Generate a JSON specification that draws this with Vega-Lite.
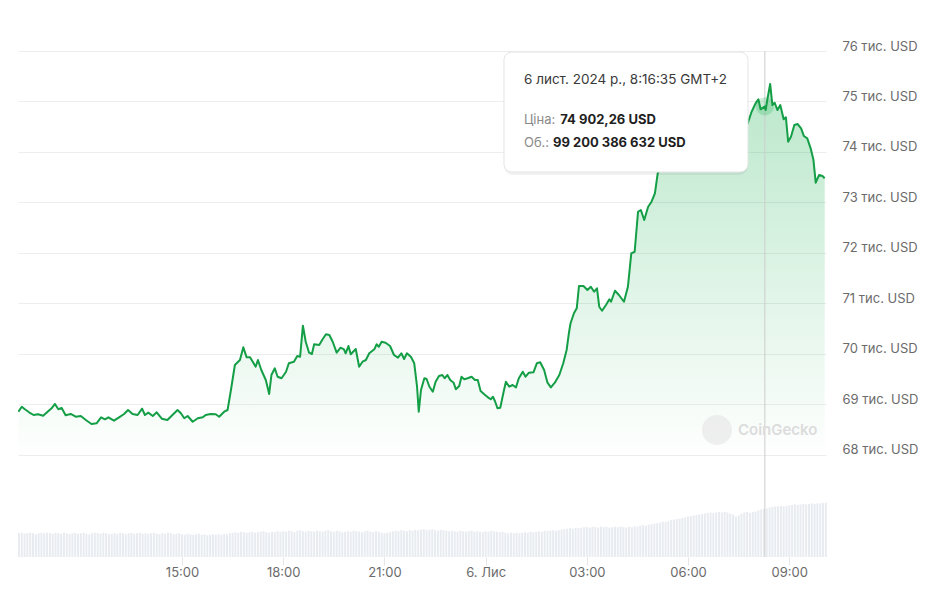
{
  "$schema": "https://vega.github.io/schema/vega-lite/v6.json",
  "width": 808,
  "height": 506,
  "padding": {"left": 17, "top": 40, "right": 0, "bottom": 0},
  "background": "white",
  "config": {"view": {"stroke": null}, "font": "Inter"},
  "datasets": {
    "price": [
      {"t":"2024-11-05T10:09Z","p":68857},{"t":"2024-11-05T10:15Z","p":68956},{"t":"2024-11-05T10:20Z","p":68911},{"t":"2024-11-05T10:28Z","p":68845},{"t":"2024-11-05T10:36Z","p":68792},{"t":"2024-11-05T10:44Z","p":68806},{"t":"2024-11-05T10:53Z","p":68778},{"t":"2024-11-05T11:01Z","p":68857},{"t":"2024-11-05T11:08Z","p":68925},{"t":"2024-11-05T11:14Z","p":69010},{"t":"2024-11-05T11:20Z","p":68905},{"t":"2024-11-05T11:26Z","p":68931},{"t":"2024-11-05T11:33Z","p":68786},{"t":"2024-11-05T11:42Z","p":68812},{"t":"2024-11-05T11:51Z","p":68758},{"t":"2024-11-05T12:00Z","p":68772},{"t":"2024-11-05T12:09Z","p":68693},{"t":"2024-11-05T12:19Z","p":68614},{"t":"2024-11-05T12:28Z","p":68628},{"t":"2024-11-05T12:36Z","p":68746},{"t":"2024-11-05T12:43Z","p":68707},{"t":"2024-11-05T12:49Z","p":68746},{"t":"2024-11-05T12:59Z","p":68679},{"t":"2024-11-05T13:08Z","p":68746},{"t":"2024-11-05T13:17Z","p":68812},{"t":"2024-11-05T13:24Z","p":68891},{"t":"2024-11-05T13:32Z","p":68812},{"t":"2024-11-05T13:41Z","p":68792},{"t":"2024-11-05T13:49Z","p":68917},{"t":"2024-11-05T13:54Z","p":68792},{"t":"2024-11-05T14:00Z","p":68838},{"t":"2024-11-05T14:08Z","p":68772},{"t":"2024-11-05T14:15Z","p":68845},{"t":"2024-11-05T14:24Z","p":68719},{"t":"2024-11-05T14:34Z","p":68693},{"t":"2024-11-05T14:43Z","p":68792},{"t":"2024-11-05T14:52Z","p":68891},{"t":"2024-11-05T14:58Z","p":68826},{"t":"2024-11-05T15:04Z","p":68727},{"t":"2024-11-05T15:10Z","p":68772},{"t":"2024-11-05T15:19Z","p":68659},{"t":"2024-11-05T15:28Z","p":68727},{"t":"2024-11-05T15:37Z","p":68746},{"t":"2024-11-05T15:42Z","p":68792},{"t":"2024-11-05T15:51Z","p":68812},{"t":"2024-11-05T16:00Z","p":68806},{"t":"2024-11-05T16:06Z","p":68758},{"t":"2024-11-05T16:15Z","p":68857},{"t":"2024-11-05T16:21Z","p":68891},{"t":"2024-11-05T16:27Z","p":69287},{"t":"2024-11-05T16:34Z","p":69782},{"t":"2024-11-05T16:43Z","p":69881},{"t":"2024-11-05T16:49Z","p":70132},{"t":"2024-11-05T16:55Z","p":69934},{"t":"2024-11-05T17:01Z","p":69934},{"t":"2024-11-05T17:11Z","p":69748},{"t":"2024-11-05T17:15Z","p":69881},{"t":"2024-11-05T17:21Z","p":69683},{"t":"2024-11-05T17:29Z","p":69485},{"t":"2024-11-05T17:35Z","p":69208},{"t":"2024-11-05T17:39Z","p":69584},{"t":"2024-11-05T17:45Z","p":69717},{"t":"2024-11-05T17:50Z","p":69550},{"t":"2024-11-05T17:57Z","p":69519},{"t":"2024-11-05T18:05Z","p":69649},{"t":"2024-11-05T18:10Z","p":69816},{"t":"2024-11-05T18:19Z","p":69847},{"t":"2024-11-05T18:25Z","p":69960},{"t":"2024-11-05T18:30Z","p":69946},{"t":"2024-11-05T18:35Z","p":70560},{"t":"2024-11-05T18:40Z","p":70243},{"t":"2024-11-05T18:46Z","p":70026},{"t":"2024-11-05T18:51Z","p":70000},{"t":"2024-11-05T18:55Z","p":70192},{"t":"2024-11-05T19:04Z","p":70178},{"t":"2024-11-05T19:10Z","p":70291},{"t":"2024-11-05T19:16Z","p":70390},{"t":"2024-11-05T19:22Z","p":70376},{"t":"2024-11-05T19:28Z","p":70243},{"t":"2024-11-05T19:35Z","p":70026},{"t":"2024-11-05T19:42Z","p":70125},{"t":"2024-11-05T19:48Z","p":70093},{"t":"2024-11-05T19:51Z","p":70014},{"t":"2024-11-05T19:56Z","p":70158},{"t":"2024-11-05T20:00Z","p":69994},{"t":"2024-11-05T20:09Z","p":70099},{"t":"2024-11-05T20:15Z","p":69748},{"t":"2024-11-05T20:21Z","p":69847},{"t":"2024-11-05T20:27Z","p":69881},{"t":"2024-11-05T20:33Z","p":70014},{"t":"2024-11-05T20:42Z","p":70093},{"t":"2024-11-05T20:46Z","p":70192},{"t":"2024-11-05T20:50Z","p":70144},{"t":"2024-11-05T20:55Z","p":70243},{"t":"2024-11-05T21:02Z","p":70224},{"t":"2024-11-05T21:10Z","p":70158},{"t":"2024-11-05T21:17Z","p":69980},{"t":"2024-11-05T21:24Z","p":69927},{"t":"2024-11-05T21:30Z","p":70014},{"t":"2024-11-05T21:35Z","p":69901},{"t":"2024-11-05T21:40Z","p":70014},{"t":"2024-11-05T21:47Z","p":69946},{"t":"2024-11-05T21:53Z","p":69816},{"t":"2024-11-05T21:58Z","p":69352},{"t":"2024-11-05T22:01Z","p":68857},{"t":"2024-11-05T22:05Z","p":69287},{"t":"2024-11-05T22:11Z","p":69519},{"t":"2024-11-05T22:15Z","p":69505},{"t":"2024-11-05T22:20Z","p":69352},{"t":"2024-11-05T22:26Z","p":69253},{"t":"2024-11-05T22:31Z","p":69451},{"t":"2024-11-05T22:37Z","p":69564},{"t":"2024-11-05T22:43Z","p":69584},{"t":"2024-11-05T22:47Z","p":69519},{"t":"2024-11-05T22:52Z","p":69584},{"t":"2024-11-05T22:57Z","p":69485},{"t":"2024-11-05T23:03Z","p":69432},{"t":"2024-11-05T23:07Z","p":69301},{"t":"2024-11-05T23:13Z","p":69366},{"t":"2024-11-05T23:17Z","p":69550},{"t":"2024-11-05T23:22Z","p":69499},{"t":"2024-11-05T23:28Z","p":69519},{"t":"2024-11-05T23:35Z","p":69550},{"t":"2024-11-05T23:41Z","p":69485},{"t":"2024-11-05T23:46Z","p":69485},{"t":"2024-11-05T23:51Z","p":69267},{"t":"2024-11-05T23:59Z","p":69188},
      {"t":"2024-11-06T00:04Z","p":69142},{"t":"2024-11-06T00:09Z","p":69103},{"t":"2024-11-06T00:13Z","p":69154},{"t":"2024-11-06T00:17Z","p":69055},{"t":"2024-11-06T00:21Z","p":68925},{"t":"2024-11-06T00:26Z","p":68937},{"t":"2024-11-06T00:32Z","p":69253},{"t":"2024-11-06T00:36Z","p":69451},{"t":"2024-11-06T00:42Z","p":69352},{"t":"2024-11-06T00:48Z","p":69386},{"t":"2024-11-06T00:54Z","p":69340},{"t":"2024-11-06T00:59Z","p":69519},{"t":"2024-11-06T01:06Z","p":69649},{"t":"2024-11-06T01:11Z","p":69550},{"t":"2024-11-06T01:17Z","p":69630},{"t":"2024-11-06T01:25Z","p":69637},{"t":"2024-11-06T01:31Z","p":69816},{"t":"2024-11-06T01:37Z","p":69835},{"t":"2024-11-06T01:44Z","p":69683},{"t":"2024-11-06T01:50Z","p":69432},{"t":"2024-11-06T01:56Z","p":69340},{"t":"2024-11-06T02:03Z","p":69432},{"t":"2024-11-06T02:11Z","p":69584},{"t":"2024-11-06T02:18Z","p":69816},{"t":"2024-11-06T02:24Z","p":70079},{"t":"2024-11-06T02:28Z","p":70410},{"t":"2024-11-06T02:31Z","p":70608},{"t":"2024-11-06T02:37Z","p":70806},{"t":"2024-11-06T02:42Z","p":70905},{"t":"2024-11-06T02:46Z","p":71346},{"t":"2024-11-06T02:54Z","p":71346},{"t":"2024-11-06T03:01Z","p":71267},{"t":"2024-11-06T03:07Z","p":71332},{"t":"2024-11-06T03:13Z","p":71233},{"t":"2024-11-06T03:18Z","p":71301},{"t":"2024-11-06T03:22Z","p":70936},{"t":"2024-11-06T03:27Z","p":70857},{"t":"2024-11-06T03:34Z","p":70970},{"t":"2024-11-06T03:40Z","p":71083},{"t":"2024-11-06T03:43Z","p":71035},{"t":"2024-11-06T03:50Z","p":71253},{"t":"2024-11-06T03:57Z","p":71168},{"t":"2024-11-06T04:06Z","p":71035},{"t":"2024-11-06T04:13Z","p":71332},{"t":"2024-11-06T04:19Z","p":71994},{"t":"2024-11-06T04:25Z","p":72025},{"t":"2024-11-06T04:31Z","p":72817},{"t":"2024-11-06T04:36Z","p":72851},{"t":"2024-11-06T04:42Z","p":72653},{"t":"2024-11-06T04:49Z","p":72916},{"t":"2024-11-06T04:55Z","p":73015},{"t":"2024-11-06T05:01Z","p":73182},{"t":"2024-11-06T05:06Z","p":73578},{"t":"2024-11-06T05:20Z","p":73842},{"t":"2024-11-06T05:47Z","p":74039},{"t":"2024-11-06T06:14Z","p":74237},{"t":"2024-11-06T06:40Z","p":74277},{"t":"2024-11-06T07:07Z","p":74435},{"t":"2024-11-06T07:34Z","p":74475},{"t":"2024-11-06T07:46Z","p":74568},{"t":"2024-11-06T07:53Z","p":74797},{"t":"2024-11-06T08:00Z","p":74964},{"t":"2024-11-06T08:05Z","p":75043},{"t":"2024-11-06T08:09Z","p":74845},{"t":"2024-11-06T08:16:35Z","p":74902.26},{"t":"2024-11-06T08:18Z","p":74831},{"t":"2024-11-06T08:21Z","p":75043},{"t":"2024-11-06T08:26Z","p":75346},{"t":"2024-11-06T08:30Z","p":74930},{"t":"2024-11-06T08:34Z","p":74975},{"t":"2024-11-06T08:39Z","p":74831},{"t":"2024-11-06T08:44Z","p":74930},{"t":"2024-11-06T08:50Z","p":74647},{"t":"2024-11-06T08:54Z","p":74686},{"t":"2024-11-06T08:58Z","p":74203},{"t":"2024-11-06T09:03Z","p":74302},{"t":"2024-11-06T09:09Z","p":74534},{"t":"2024-11-06T09:15Z","p":74554},{"t":"2024-11-06T09:21Z","p":74469},{"t":"2024-11-06T09:26Z","p":74316},{"t":"2024-11-06T09:32Z","p":74271},{"t":"2024-11-06T09:38Z","p":74073},{"t":"2024-11-06T09:43Z","p":73841},{"t":"2024-11-06T09:47Z","p":73392},{"t":"2024-11-06T09:53Z","p":73544},{"t":"2024-11-06T09:59Z","p":73524},{"t":"2024-11-06T10:03Z","p":73479}
    ],
    "vol": [
      {"t":"2024-11-05T10:10Z","v":47},{"t":"2024-11-05T10:15Z","v":48},{"t":"2024-11-05T10:20Z","v":46},{"t":"2024-11-05T10:25Z","v":47},{"t":"2024-11-05T10:30Z","v":48},{"t":"2024-11-05T10:35Z","v":47},{"t":"2024-11-05T10:40Z","v":45},{"t":"2024-11-05T10:45Z","v":47},{"t":"2024-11-05T10:50Z","v":48},{"t":"2024-11-05T10:55Z","v":47},
      {"t":"2024-11-05T11:00Z","v":48},{"t":"2024-11-05T11:05Z","v":47},{"t":"2024-11-05T11:10Z","v":46},{"t":"2024-11-05T11:15Z","v":48},{"t":"2024-11-05T11:20Z","v":47},{"t":"2024-11-05T11:25Z","v":46},{"t":"2024-11-05T11:30Z","v":48},{"t":"2024-11-05T11:35Z","v":47},{"t":"2024-11-05T11:40Z","v":45},{"t":"2024-11-05T11:45Z","v":47},{"t":"2024-11-05T11:50Z","v":48},{"t":"2024-11-05T11:55Z","v":46},
      {"t":"2024-11-05T12:00Z","v":47},{"t":"2024-11-05T12:05Z","v":48},{"t":"2024-11-05T12:10Z","v":46},{"t":"2024-11-05T12:15Z","v":45},{"t":"2024-11-05T12:20Z","v":47},{"t":"2024-11-05T12:25Z","v":48},{"t":"2024-11-05T12:30Z","v":47},{"t":"2024-11-05T12:35Z","v":46},{"t":"2024-11-05T12:40Z","v":48},{"t":"2024-11-05T12:45Z","v":47},{"t":"2024-11-05T12:50Z","v":45},{"t":"2024-11-05T12:55Z","v":46},
      {"t":"2024-11-05T13:00Z","v":47},{"t":"2024-11-05T13:05Z","v":46},{"t":"2024-11-05T13:10Z","v":48},{"t":"2024-11-05T13:15Z","v":47},{"t":"2024-11-05T13:20Z","v":45},{"t":"2024-11-05T13:25Z","v":47},{"t":"2024-11-05T13:30Z","v":48},{"t":"2024-11-05T13:35Z","v":46},{"t":"2024-11-05T13:40Z","v":47},{"t":"2024-11-05T13:45Z","v":48},{"t":"2024-11-05T13:50Z","v":46},{"t":"2024-11-05T13:55Z","v":47},
      {"t":"2024-11-05T14:00Z","v":46},{"t":"2024-11-05T14:05Z","v":47},{"t":"2024-11-05T14:10Z","v":48},{"t":"2024-11-05T14:15Z","v":46},{"t":"2024-11-05T14:20Z","v":45},{"t":"2024-11-05T14:25Z","v":47},{"t":"2024-11-05T14:30Z","v":46},{"t":"2024-11-05T14:35Z","v":48},{"t":"2024-11-05T14:40Z","v":47},{"t":"2024-11-05T14:45Z","v":45},{"t":"2024-11-05T14:50Z","v":46},{"t":"2024-11-05T14:55Z","v":47},
      {"t":"2024-11-05T15:00Z","v":45},{"t":"2024-11-05T15:05Z","v":44},{"t":"2024-11-05T15:10Z","v":46},{"t":"2024-11-05T15:15Z","v":45},{"t":"2024-11-05T15:20Z","v":44},{"t":"2024-11-05T15:25Z","v":45},{"t":"2024-11-05T15:30Z","v":46},{"t":"2024-11-05T15:35Z","v":44},{"t":"2024-11-05T15:40Z","v":45},{"t":"2024-11-05T15:45Z","v":43},{"t":"2024-11-05T15:50Z","v":44},{"t":"2024-11-05T15:55Z","v":45},
      {"t":"2024-11-05T16:00Z","v":44},{"t":"2024-11-05T16:05Z","v":45},{"t":"2024-11-05T16:10Z","v":44},{"t":"2024-11-05T16:15Z","v":46},{"t":"2024-11-05T16:20Z","v":45},{"t":"2024-11-05T16:25Z","v":47},{"t":"2024-11-05T16:30Z","v":48},{"t":"2024-11-05T16:35Z","v":49},{"t":"2024-11-05T16:40Z","v":48},{"t":"2024-11-05T16:45Z","v":50},{"t":"2024-11-05T16:50Z","v":49},{"t":"2024-11-05T16:55Z","v":48},
      {"t":"2024-11-05T17:00Z","v":49},{"t":"2024-11-05T17:05Z","v":50},{"t":"2024-11-05T17:10Z","v":48},{"t":"2024-11-05T17:15Z","v":49},{"t":"2024-11-05T17:20Z","v":50},{"t":"2024-11-05T17:25Z","v":51},{"t":"2024-11-05T17:30Z","v":49},{"t":"2024-11-05T17:35Z","v":48},{"t":"2024-11-05T17:40Z","v":50},{"t":"2024-11-05T17:45Z","v":49},{"t":"2024-11-05T17:50Z","v":51},{"t":"2024-11-05T17:55Z","v":50},
      {"t":"2024-11-05T18:00Z","v":51},{"t":"2024-11-05T18:05Z","v":50},{"t":"2024-11-05T18:10Z","v":52},{"t":"2024-11-05T18:15Z","v":51},{"t":"2024-11-05T18:20Z","v":49},{"t":"2024-11-05T18:25Z","v":52},{"t":"2024-11-05T18:30Z","v":53},{"t":"2024-11-05T18:35Z","v":51},{"t":"2024-11-05T18:40Z","v":50},{"t":"2024-11-05T18:45Z","v":52},{"t":"2024-11-05T18:50Z","v":51},{"t":"2024-11-05T18:55Z","v":50},
      {"t":"2024-11-05T19:00Z","v":52},{"t":"2024-11-05T19:05Z","v":51},{"t":"2024-11-05T19:10Z","v":50},{"t":"2024-11-05T19:15Z","v":52},{"t":"2024-11-05T19:20Z","v":53},{"t":"2024-11-05T19:25Z","v":51},{"t":"2024-11-05T19:30Z","v":50},{"t":"2024-11-05T19:35Z","v":52},{"t":"2024-11-05T19:40Z","v":51},{"t":"2024-11-05T19:45Z","v":49},{"t":"2024-11-05T19:50Z","v":50},{"t":"2024-11-05T19:55Z","v":51},
      {"t":"2024-11-05T20:00Z","v":50},{"t":"2024-11-05T20:05Z","v":52},{"t":"2024-11-05T20:10Z","v":51},{"t":"2024-11-05T20:15Z","v":50},{"t":"2024-11-05T20:20Z","v":49},{"t":"2024-11-05T20:25Z","v":51},{"t":"2024-11-05T20:30Z","v":52},{"t":"2024-11-05T20:35Z","v":50},{"t":"2024-11-05T20:40Z","v":49},{"t":"2024-11-05T20:45Z","v":51},{"t":"2024-11-05T20:50Z","v":50},{"t":"2024-11-05T20:55Z","v":48},
      {"t":"2024-11-05T21:00Z","v":47},{"t":"2024-11-05T21:05Z","v":48},{"t":"2024-11-05T21:10Z","v":49},{"t":"2024-11-05T21:15Z","v":51},{"t":"2024-11-05T21:20Z","v":52},{"t":"2024-11-05T21:25Z","v":51},{"t":"2024-11-05T21:30Z","v":53},{"t":"2024-11-05T21:35Z","v":52},{"t":"2024-11-05T21:40Z","v":51},{"t":"2024-11-05T21:45Z","v":53},{"t":"2024-11-05T21:50Z","v":52},{"t":"2024-11-05T21:55Z","v":54},
      {"t":"2024-11-05T22:00Z","v":53},{"t":"2024-11-05T22:05Z","v":54},{"t":"2024-11-05T22:10Z","v":55},{"t":"2024-11-05T22:15Z","v":53},{"t":"2024-11-05T22:20Z","v":54},{"t":"2024-11-05T22:25Z","v":55},{"t":"2024-11-05T22:30Z","v":53},{"t":"2024-11-05T22:35Z","v":52},{"t":"2024-11-05T22:40Z","v":54},{"t":"2024-11-05T22:45Z","v":53},{"t":"2024-11-05T22:50Z","v":52},{"t":"2024-11-05T22:55Z","v":51},
      {"t":"2024-11-05T23:00Z","v":52},{"t":"2024-11-05T23:05Z","v":51},{"t":"2024-11-05T23:10Z","v":50},{"t":"2024-11-05T23:15Z","v":52},{"t":"2024-11-05T23:20Z","v":51},{"t":"2024-11-05T23:25Z","v":50},{"t":"2024-11-05T23:30Z","v":51},{"t":"2024-11-05T23:35Z","v":52},{"t":"2024-11-05T23:40Z","v":50},{"t":"2024-11-05T23:45Z","v":51},{"t":"2024-11-05T23:50Z","v":50},{"t":"2024-11-05T23:55Z","v":49},
      {"t":"2024-11-06T00:00Z","v":51},{"t":"2024-11-06T00:05Z","v":50},{"t":"2024-11-06T00:10Z","v":52},{"t":"2024-11-06T00:15Z","v":51},{"t":"2024-11-06T00:20Z","v":50},{"t":"2024-11-06T00:25Z","v":49},{"t":"2024-11-06T00:30Z","v":50},{"t":"2024-11-06T00:35Z","v":48},{"t":"2024-11-06T00:40Z","v":47},{"t":"2024-11-06T00:45Z","v":48},{"t":"2024-11-06T00:50Z","v":47},{"t":"2024-11-06T00:55Z","v":48},
      {"t":"2024-11-06T01:00Z","v":47},{"t":"2024-11-06T01:05Z","v":48},{"t":"2024-11-06T01:10Z","v":49},{"t":"2024-11-06T01:15Z","v":48},{"t":"2024-11-06T01:20Z","v":50},{"t":"2024-11-06T01:25Z","v":49},{"t":"2024-11-06T01:30Z","v":50},{"t":"2024-11-06T01:35Z","v":51},{"t":"2024-11-06T01:40Z","v":50},{"t":"2024-11-06T01:45Z","v":52},{"t":"2024-11-06T01:50Z","v":51},{"t":"2024-11-06T01:55Z","v":52},
      {"t":"2024-11-06T02:00Z","v":53},{"t":"2024-11-06T02:05Z","v":52},{"t":"2024-11-06T02:10Z","v":53},{"t":"2024-11-06T02:15Z","v":54},{"t":"2024-11-06T02:20Z","v":55},{"t":"2024-11-06T02:25Z","v":56},{"t":"2024-11-06T02:30Z","v":57},{"t":"2024-11-06T02:35Z","v":56},{"t":"2024-11-06T02:40Z","v":58},{"t":"2024-11-06T02:45Z","v":57},{"t":"2024-11-06T02:50Z","v":58},{"t":"2024-11-06T02:55Z","v":59},
      {"t":"2024-11-06T03:00Z","v":59},{"t":"2024-11-06T03:05Z","v":58},{"t":"2024-11-06T03:10Z","v":60},{"t":"2024-11-06T03:15Z","v":59},{"t":"2024-11-06T03:20Z","v":58},{"t":"2024-11-06T03:25Z","v":60},{"t":"2024-11-06T03:30Z","v":59},{"t":"2024-11-06T03:35Z","v":60},{"t":"2024-11-06T03:40Z","v":58},{"t":"2024-11-06T03:45Z","v":59},{"t":"2024-11-06T03:50Z","v":60},{"t":"2024-11-06T03:55Z","v":59},
      {"t":"2024-11-06T04:00Z","v":60},{"t":"2024-11-06T04:05Z","v":59},{"t":"2024-11-06T04:10Z","v":58},{"t":"2024-11-06T04:15Z","v":60},{"t":"2024-11-06T04:20Z","v":59},{"t":"2024-11-06T04:25Z","v":61},{"t":"2024-11-06T04:30Z","v":60},{"t":"2024-11-06T04:35Z","v":62},{"t":"2024-11-06T04:40Z","v":63},{"t":"2024-11-06T04:45Z","v":62},{"t":"2024-11-06T04:50Z","v":64},{"t":"2024-11-06T04:55Z","v":65},
      {"t":"2024-11-06T05:00Z","v":66},{"t":"2024-11-06T05:05Z","v":67},{"t":"2024-11-06T05:10Z","v":68},{"t":"2024-11-06T05:15Z","v":70},{"t":"2024-11-06T05:20Z","v":69},{"t":"2024-11-06T05:25Z","v":71},{"t":"2024-11-06T05:30Z","v":73},{"t":"2024-11-06T05:35Z","v":74},{"t":"2024-11-06T05:40Z","v":75},{"t":"2024-11-06T05:45Z","v":76},{"t":"2024-11-06T05:50Z","v":77},{"t":"2024-11-06T05:55Z","v":78},
      {"t":"2024-11-06T06:00Z","v":80},{"t":"2024-11-06T06:05Z","v":81},{"t":"2024-11-06T06:10Z","v":82},{"t":"2024-11-06T06:15Z","v":83},{"t":"2024-11-06T06:20Z","v":84},{"t":"2024-11-06T06:25Z","v":85},{"t":"2024-11-06T06:30Z","v":86},{"t":"2024-11-06T06:35Z","v":87},{"t":"2024-11-06T06:40Z","v":88},{"t":"2024-11-06T06:45Z","v":87},{"t":"2024-11-06T06:50Z","v":88},{"t":"2024-11-06T06:55Z","v":89},
      {"t":"2024-11-06T07:00Z","v":88},{"t":"2024-11-06T07:05Z","v":89},{"t":"2024-11-06T07:10Z","v":88},{"t":"2024-11-06T07:15Z","v":86},{"t":"2024-11-06T07:20Z","v":84},{"t":"2024-11-06T07:25Z","v":80},{"t":"2024-11-06T07:30Z","v":82},{"t":"2024-11-06T07:35Z","v":86},{"t":"2024-11-06T07:40Z","v":88},{"t":"2024-11-06T07:45Z","v":89},{"t":"2024-11-06T07:50Z","v":87},{"t":"2024-11-06T07:55Z","v":89},
      {"t":"2024-11-06T08:00Z","v":90},{"t":"2024-11-06T08:05Z","v":92},{"t":"2024-11-06T08:10Z","v":94},{"t":"2024-11-06T08:15Z","v":95},{"t":"2024-11-06T08:20Z","v":96},{"t":"2024-11-06T08:25Z","v":98},{"t":"2024-11-06T08:30Z","v":99},{"t":"2024-11-06T08:35Z","v":100},{"t":"2024-11-06T08:40Z","v":100},{"t":"2024-11-06T08:45Z","v":101},{"t":"2024-11-06T08:50Z","v":100},{"t":"2024-11-06T08:55Z","v":101},
      {"t":"2024-11-06T09:00Z","v":102},{"t":"2024-11-06T09:05Z","v":103},{"t":"2024-11-06T09:10Z","v":104},{"t":"2024-11-06T09:15Z","v":103},{"t":"2024-11-06T09:20Z","v":104},{"t":"2024-11-06T09:25Z","v":105},{"t":"2024-11-06T09:30Z","v":104},{"t":"2024-11-06T09:35Z","v":105},{"t":"2024-11-06T09:40Z","v":106},{"t":"2024-11-06T09:45Z","v":105},{"t":"2024-11-06T09:50Z","v":106},{"t":"2024-11-06T09:55Z","v":106},
      {"t":"2024-11-06T10:00Z","v":107},{"t":"2024-11-06T10:05Z","v":107}
    ]
  },
  "resolve": {"scale": {"y": "independent"}},
  "layer": [
    {
      "data": {"name": "vol"},
      "mark": {"type": "bar", "width": 2, "color": "#e8ecf1"},
      "encoding": {
        "x": {
          "field": "t", "type": "temporal", "title": null,
          "scale": {"type": "utc", "padding": 0, "domain": [
            {"year": 2024, "month": 11, "date": 5, "hours": 10, "minutes": 8, "seconds": 18, "utc": true},
            {"year": 2024, "month": 11, "date": 6, "hours": 10, "minutes": 5, "seconds": 18, "utc": true}
          ]},
          "axis": {
            "values": [
              {"year": 2024, "month": 11, "date": 5, "hours": 15, "utc": true},
              {"year": 2024, "month": 11, "date": 5, "hours": 18, "utc": true},
              {"year": 2024, "month": 11, "date": 5, "hours": 21, "utc": true},
              {"year": 2024, "month": 11, "date": 6, "hours": 0, "utc": true},
              {"year": 2024, "month": 11, "date": 6, "hours": 3, "utc": true},
              {"year": 2024, "month": 11, "date": 6, "hours": 6, "utc": true},
              {"year": 2024, "month": 11, "date": 6, "hours": 9, "utc": true}
            ],
            "labelExpr": "utchours(datum.value) == 0 ? '6. Лис' : utcFormat(datum.value, '%H:%M')",
            "grid": false, "domain": false, "ticks": true, "tickColor": "#e6e6e6", "tickSize": 8,
            "labelPadding": 1, "labelFont": "Inter", "labelFontSize": 13, "labelColor": "#6b6b6b",
            "labelFlush": false, "labelOverlap": false
          }
        },
        "y": {"field": "v", "type": "quantitative", "scale": {"domain": [0, 1000]}, "axis": null}
      }
    },
    {
      "layer": [
        {
          "data": {"name": "price"},
          "mark": {"type": "area", "line": false, "clip": true,
            "color": {"gradient": "linear", "x1": 0, "y1": 0, "x2": 0, "y2": 1,
              "stops": [{"offset": 0, "color": "rgba(0,168,62,0.27)"}, {"offset": 1, "color": "rgba(0,168,62,0)"}]}},
          "encoding": {
            "x": {"field": "t", "type": "temporal", "title": null},
            "y": {"field": "p", "type": "quantitative", "title": null,
              "scale": {"domain": [65980, 76000], "zero": false, "nice": false},
              "axis": {"orient": "right", "values": [68000, 69000, 70000, 71000, 72000, 73000, 74000, 75000, 76000],
                "labelExpr": "format(datum.value / 1000, 'd') + ' тис. USD'",
                "domain": false, "ticks": false, "tickSize": 0, "grid": true, "gridColor": "#ededed",
                "labelPadding": 16, "labelOffset": -5, "labelFont": "Inter", "labelFontSize": 13, "labelColor": "#6b6b6b"}},
            "y2": {"datum": 67900}
          }
        },
        {
          "data": {"values": [{"t": "2024-11-06T08:16:35Z"}]},
          "mark": {"type": "rule", "color": "#cccccc", "strokeWidth": 1},
          "encoding": {"x": {"field": "t", "type": "temporal", "title": null}}
        },
        {
          "data": {"values": [{"t": "2024-11-06T08:16:35Z", "p": 74902.26}]},
          "mark": {"type": "point", "filled": true, "size": 330, "color": "#00a83e", "opacity": 0.2},
          "encoding": {
            "x": {"field": "t", "type": "temporal", "title": null},
            "y": {"field": "p", "type": "quantitative", "title": null}
          }
        },
        {
          "data": {"name": "price"},
          "mark": {"type": "line", "color": "#149e46", "strokeWidth": 2, "strokeJoin": "round", "clip": true},
          "encoding": {
            "x": {"field": "t", "type": "temporal", "title": null},
            "y": {"field": "p", "type": "quantitative", "title": null}
          }
        },
        {
          "data": {"values": [{"t": "2024-11-06T06:51:24Z", "p": 68495}]},
          "mark": {"type": "point", "filled": true, "size": 900, "color": "#e4e4e4", "opacity": 0.6},
          "encoding": {
            "x": {"field": "t", "type": "temporal", "title": null},
            "y": {"field": "p", "type": "quantitative", "title": null}
          }
        },
        {
          "data": {"values": [{"t": "2024-11-06T07:28:45Z", "p": 68495, "label": "CoinGecko"}]},
          "mark": {"type": "text", "align": "left", "baseline": "middle", "font": "Inter", "fontSize": 15, "fontWeight": 600, "color": "#dcdcdc"},
          "encoding": {
            "x": {"field": "t", "type": "temporal", "title": null},
            "y": {"field": "p", "type": "quantitative", "title": null},
            "text": {"field": "label"}
          }
        },
        {
          "data": {"values": [{"t1": "2024-11-06T00:32:36Z", "t2": "2024-11-06T07:46:32Z", "p1": 73603, "p2": 75979}]},
          "mark": {"type": "rect", "cornerRadius": 9, "color": "#000000", "opacity": 0.05, "yOffset": 3, "y2Offset": 3},
          "encoding": {
            "x": {"field": "t1", "type": "temporal", "title": null},
            "x2": {"field": "t2"},
            "y": {"field": "p1", "type": "quantitative", "title": null},
            "y2": {"field": "p2"}
          }
        },
        {
          "data": {"values": [{"t1": "2024-11-06T00:32:36Z", "t2": "2024-11-06T07:46:32Z", "p1": 73603, "p2": 75979}]},
          "mark": {"type": "rect", "cornerRadius": 8, "fill": "#ffffff", "stroke": "#e4e4e4", "strokeWidth": 1},
          "encoding": {
            "x": {"field": "t1", "type": "temporal", "title": null},
            "x2": {"field": "t2"},
            "y": {"field": "p1", "type": "quantitative", "title": null},
            "y2": {"field": "p2"}
          }
        },
        {
          "data": {"values": [{"t": "2024-11-06T01:08:10Z", "p": 75425, "label": "6 лист. 2024 р., 8:16:35 GMT+2"}]},
          "mark": {"type": "text", "align": "left", "baseline": "middle", "font": "Inter", "fontSize": 13.5, "color": "#3a3a3a"},
          "encoding": {
            "x": {"field": "t", "type": "temporal", "title": null},
            "y": {"field": "p", "type": "quantitative", "title": null},
            "text": {"field": "label"}
          }
        },
        {
          "data": {"values": [{"t": "2024-11-06T01:08:10Z", "p": 74633, "label": "Ціна:"}, {"t": "2024-11-06T01:08:10Z", "p": 74184, "label": "Об.:"}]},
          "mark": {"type": "text", "align": "left", "baseline": "middle", "font": "Inter", "fontSize": 13, "color": "#8a8a8a"},
          "encoding": {
            "x": {"field": "t", "type": "temporal", "title": null},
            "y": {"field": "p", "type": "quantitative", "title": null},
            "text": {"field": "label"}
          }
        },
        {
          "data": {"values": [{"t": "2024-11-06T02:12:42Z", "p": 74633, "label": "74 902,26 USD"}, {"t": "2024-11-06T01:59:44Z", "p": 74184, "label": "99 200 386 632 USD"}]},
          "mark": {"type": "text", "align": "left", "baseline": "middle", "font": "Inter", "fontSize": 13, "fontWeight": "bold", "color": "#1f1f1f"},
          "encoding": {
            "x": {"field": "t", "type": "temporal", "title": null},
            "y": {"field": "p", "type": "quantitative", "title": null},
            "text": {"field": "label"}
          }
        }
      ]
    }
  ]
}
